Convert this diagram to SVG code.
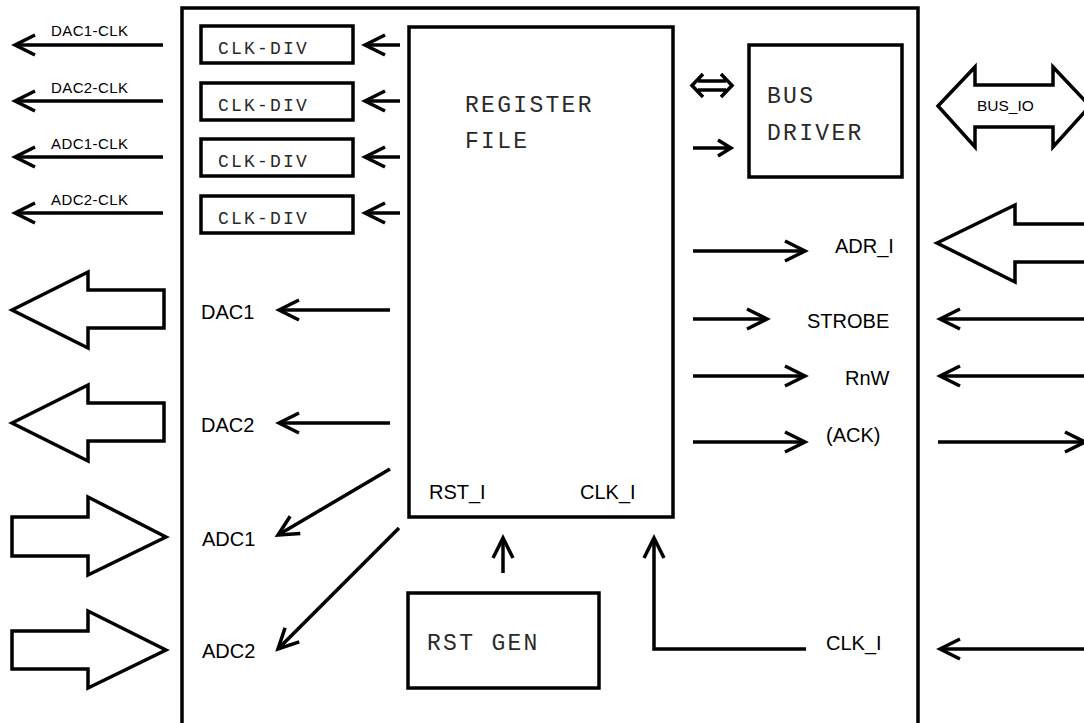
<svg xmlns="http://www.w3.org/2000/svg" width="1084" height="723" viewBox="0 0 1084 723">
<style>
.box{fill:#fff;stroke:#000;stroke-width:3.5}
.ln{fill:none;stroke:#000;stroke-width:3.5;marker-end:url(#ah)}
.big{fill:#fff;stroke:#000;stroke-width:3.5;stroke-linejoin:miter}
.mono{font-family:"Liberation Mono",monospace;fill:#2a2a2a}
.sans{font-family:"Liberation Sans",Arial,sans-serif;fill:#000}
.m18{font-size:18px;letter-spacing:2.2px}
.m23{font-size:23px;letter-spacing:2.3px}
.s20{font-size:20px}
.s15{font-size:15px;letter-spacing:0.4px}
</style>
<defs>
<marker id="ah" markerUnits="userSpaceOnUse" viewBox="-24 -14 28 28" refX="0" refY="0" markerWidth="28" markerHeight="28" orient="auto" overflow="visible">
<path d="M-20,-10 L0,0 L-20,10" fill="none" stroke="#000" stroke-width="3.5"/>
</marker>
</defs>
<rect width="1084" height="723" fill="#fff"/>

<g id="chip">
<path d="M182,740 V8 H918 V740" fill="none" stroke="#000" stroke-width="3.5"/>
</g>

<g id="register-file">
<rect class="box" x="409" y="27" width="264" height="490"/>
<text class="mono m23" x="465" y="112">REGISTER</text>
<text class="mono m23" x="465" y="148">FILE</text>
<text class="sans s20" x="429" y="499">RST_I</text>
<text class="sans s20" x="580" y="499">CLK_I</text>
</g>

<g id="clkdiv1"><rect class="box" x="201" y="26" width="152" height="37"/><text class="mono m18" x="218" y="54">CLK-DIV</text></g>
<g id="clkdiv2"><rect class="box" x="201" y="83" width="152" height="37"/><text class="mono m18" x="218" y="111">CLK-DIV</text></g>
<g id="clkdiv3"><rect class="box" x="201" y="139" width="152" height="37"/><text class="mono m18" x="218" y="167">CLK-DIV</text></g>
<g id="clkdiv4"><rect class="box" x="201" y="196" width="152" height="37"/><text class="mono m18" x="218" y="224">CLK-DIV</text></g>

<g id="bus-driver">
<rect class="box" x="749" y="45" width="153" height="132"/>
<text class="mono m23" x="767" y="103">BUS</text>
<text class="mono m23" x="767" y="140">DRIVER</text>
</g>

<g id="rst-gen">
<rect class="box" x="408" y="593" width="191" height="95"/>
<text class="mono m23" x="427" y="650">RST GEN</text>
</g>

<g id="connectors">
<path class="ln" d="M400,45 H365"/>
<path class="ln" d="M400,101 H365"/>
<path class="ln" d="M400,157 H365"/>
<path class="ln" d="M400,213 H365"/>
<path class="ln" d="M163,45 H15"/>
<path class="ln" d="M163,101 H15"/>
<path class="ln" d="M163,157 H15"/>
<path class="ln" d="M163,213 H15"/>
<path class="ln" d="M390,310 H279"/>
<path class="ln" d="M390,423 H279"/>
<path class="ln" d="M390,469 L278,535"/>
<path class="ln" d="M399,528 L278,649"/>
<path class="ln" d="M503,573 V538"/>
<path class="ln" d="M806,649 H654 V538"/>
<path class="ln" d="M693,251 H805"/>
<path class="ln" d="M693,319 H767"/>
<path class="ln" d="M693,376 H805"/>
<path class="ln" d="M693,442 H805"/>
<path class="ln" d="M1090,319 H940"/>
<path class="ln" d="M1090,376 H940"/>
<path class="ln" d="M938,442 H1085"/>
<path class="ln" d="M1090,649 H940"/>
<path d="M693,148 H730 M718,140 L731,148 L718,156" fill="none" stroke="#000" stroke-width="3.5"/>
<path d="M698,81 H726 M698,90 H726 M703,74 L692,85.5 L703,97 M721,74 L732,85.5 L721,97" fill="none" stroke="#000" stroke-width="3.5"/>
<polygon class="big" points="12,310 88,272 88,290 164,290 164,328 88,328 88,348"/>
<polygon class="big" points="12,423 88,385 88,403 164,403 164,441 88,441 88,461"/>
<polygon class="big" points="166,537 88,497 88,517 12,517 12,556 88,556 88,575"/>
<polygon class="big" points="166,650 88,611 88,631 12,631 12,669 88,669 88,688"/>
<polygon class="big" points="937,243 1015,205 1015,224 1100,224 1100,262 1015,262 1015,282"/>
<polygon class="big" points="938,106 975,67 975,85 1053,85 1053,67 1090,106 1053,147 1053,127 975,127 975,147"/>
</g>

<g id="labels">
<text class="sans s15" x="51" y="36">DAC1-CLK</text>
<text class="sans s15" x="51" y="93">DAC2-CLK</text>
<text class="sans s15" x="51" y="149">ADC1-CLK</text>
<text class="sans s15" x="51" y="205">ADC2-CLK</text>
<text class="sans s20" x="201" y="319">DAC1</text>
<text class="sans s20" x="201" y="432">DAC2</text>
<text class="sans s20" x="202" y="546">ADC1</text>
<text class="sans s20" x="202" y="658">ADC2</text>
<text class="sans s20" x="835" y="253">ADR_I</text>
<text class="sans s20" x="807" y="328">STROBE</text>
<text class="sans s20" x="845" y="385">RnW</text>
<text class="sans s20" x="826" y="442">(ACK)</text>
<text class="sans s20" x="826" y="650">CLK_I</text>
<text class="sans" style="font-size:15.5px" x="977" y="111">BUS_IO</text>
</g>
</svg>
